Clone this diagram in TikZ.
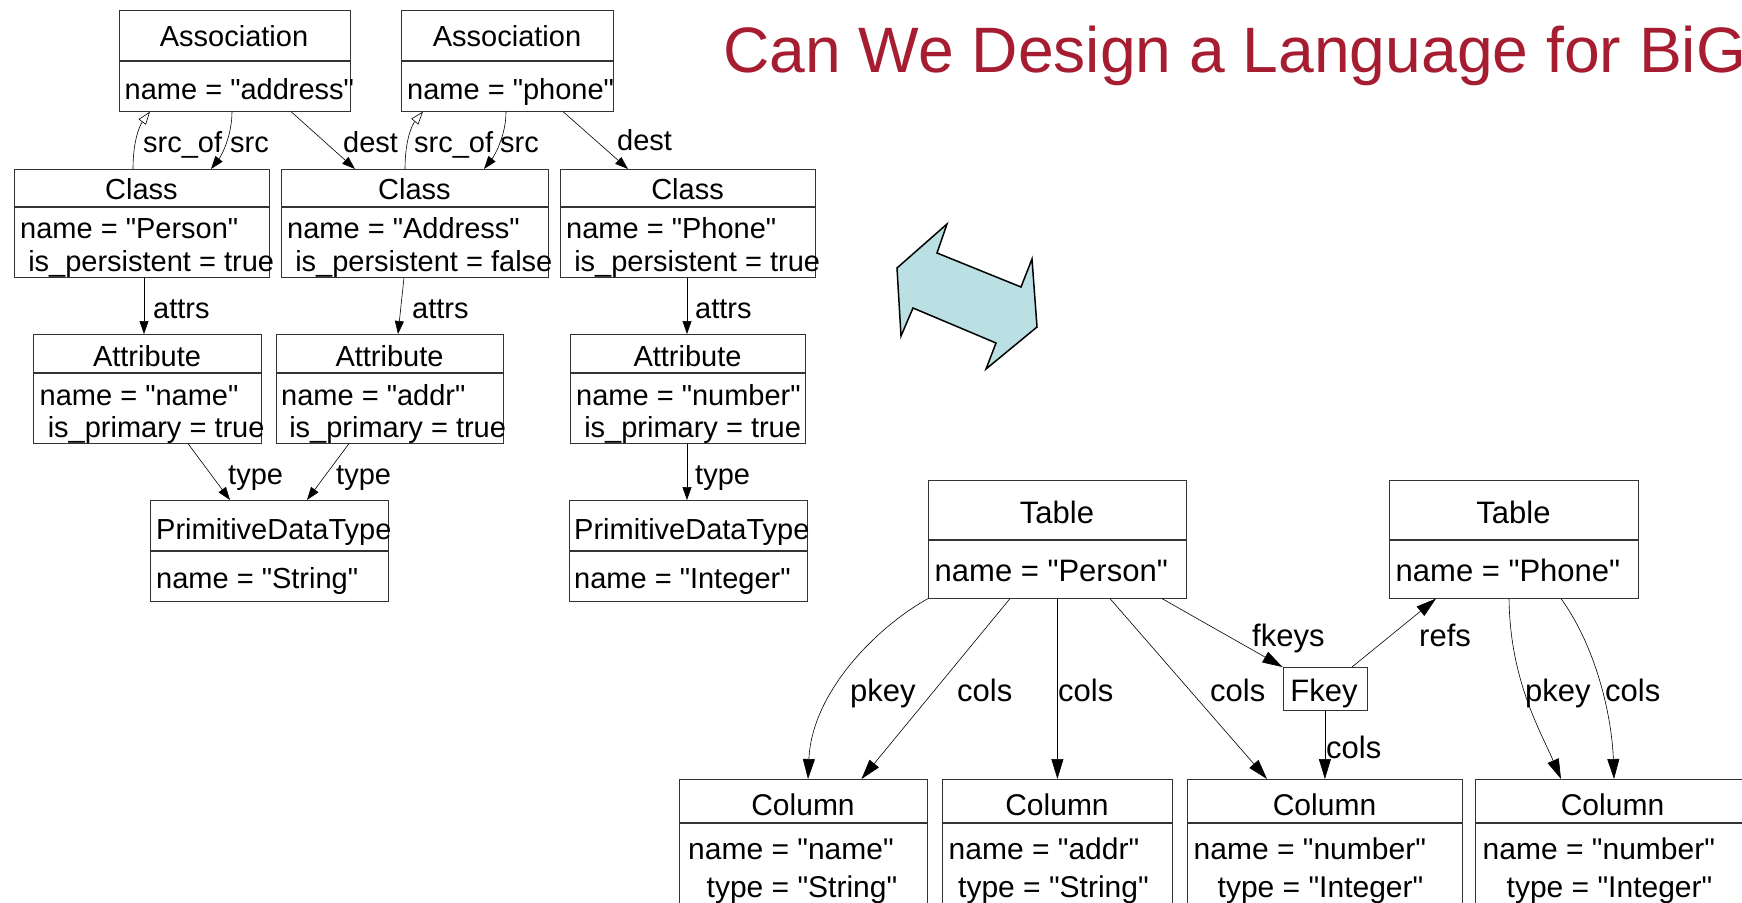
\documentclass[tikz,border=0pt]{standalone}
\usepackage{fontspec}
\setmainfont{Liberation Sans}[Ligatures=TeXOff]
\usepackage{tikz}
\usetikzlibrary{arrows.meta}

\definecolor{titlered}{RGB}{166,29,50}
\definecolor{arrowblue}{RGB}{186,224,228}

\tikzset{
  obj/.style={draw=black!80, line width=0.8pt, anchor=north west, inner sep=0pt},
  hd/.style={anchor=base, inner sep=0pt},
  txt/.style={anchor=base west, inner sep=0pt},
  rel/.style={-{Triangle[length=13pt,width=9pt]}, line width=0.6pt},
  inv/.style={-{Triangle[open,length=13pt,width=9pt]}, line width=0.6pt},
  relb/.style={-{Triangle[length=20pt,width=12pt]}, line width=0.6pt},
  lfont/.style={font=\fontsize{29}{34}\selectfont},
  rfont/.style={font=\fontsize{31}{36}\selectfont},
  cfont/.style={font=\fontsize{30}{36}\selectfont},
}

\begin{document}
\begin{tikzpicture}[x=1pt,y=-1pt]
\clip (0,0) rectangle (1742,902);
\fill[white] (0,0) rectangle (1742,902);

% title
\node[txt, text=titlered, font=\fontsize{64.2}{72}\selectfont] (title) at (723,72) {Can We Design a Language for BiG};

% object boxes, class side
\node[obj, minimum width=231, minimum height=50] (as1h) at (119,10) {};
\node[obj, minimum width=231, minimum height=50] (as1b) at (as1h.south west) {};
\node[obj, minimum width=212, minimum height=50] (as2h) at (401,10) {};
\node[obj, minimum width=212, minimum height=50] (as2b) at (as2h.south west) {};
\node[obj, minimum width=255, minimum height=37] (cl1h) at (14,169) {};
\node[obj, minimum width=255, minimum height=70] (cl1b) at (cl1h.south west) {};
\node[obj, minimum width=267, minimum height=37] (cl2h) at (281,169) {};
\node[obj, minimum width=267, minimum height=70] (cl2b) at (cl2h.south west) {};
\node[obj, minimum width=255, minimum height=37] (cl3h) at (560,169) {};
\node[obj, minimum width=255, minimum height=70] (cl3b) at (cl3h.south west) {};
\node[obj, minimum width=228, minimum height=38] (at1h) at (33,334) {};
\node[obj, minimum width=228, minimum height=70] (at1b) at (at1h.south west) {};
\node[obj, minimum width=227, minimum height=38] (at2h) at (276,334) {};
\node[obj, minimum width=227, minimum height=70] (at2b) at (at2h.south west) {};
\node[obj, minimum width=235, minimum height=38] (at3h) at (570,334) {};
\node[obj, minimum width=235, minimum height=70] (at3b) at (at3h.south west) {};
\node[obj, minimum width=238, minimum height=50] (pd1h) at (150,500) {};
\node[obj, minimum width=238, minimum height=50] (pd1b) at (pd1h.south west) {};
\node[obj, minimum width=238, minimum height=50] (pd2h) at (569,500) {};
\node[obj, minimum width=238, minimum height=50] (pd2b) at (pd2h.south west) {};

\node[hd, lfont] (as1n) at (234,46) {Association};
\node[txt, lfont] (as1v) at (124.5,99) {name = "address"};
\node[hd, lfont] (as2n) at (507,46) {Association};
\node[txt, lfont] (as2v) at (407,99) {name = "phone"};
\node[hd, lfont] (cl1n) at (141.5,199) {Class};
\node[txt, lfont] (cl1v) at (20,238) {name = "Person"};
\node[txt, lfont] (cl1w) at (20,271) {~is\_persistent = true};
\node[hd, lfont] (cl2n) at (414.5,199) {Class};
\node[txt, lfont] (cl2v) at (287,238) {name = "Address"};
\node[txt, lfont] (cl2w) at (287,271) {~is\_persistent = false};
\node[hd, lfont] (cl3n) at (687.5,199) {Class};
\node[txt, lfont] (cl3v) at (566,238) {name = "Phone"};
\node[txt, lfont] (cl3w) at (566,271) {~is\_persistent = true};
\node[hd, lfont] (at1n) at (147,366) {Attribute};
\node[txt, lfont] (at1v) at (39.5,405) {name = "name"};
\node[txt, lfont] (at1w) at (39.5,437) {~is\_primary = true};
\node[hd, lfont] (at2n) at (389.5,366) {Attribute};
\node[txt, lfont] (at2v) at (281,405) {name = "addr"};
\node[txt, lfont] (at2w) at (281,437) {~is\_primary = true};
\node[hd, lfont] (at3n) at (687.5,366) {Attribute};
\node[txt, lfont] (at3v) at (576,405) {name = "number"};
\node[txt, lfont] (at3w) at (576,437) {~is\_primary = true};
\node[txt, lfont] (pd1n) at (156,539) {PrimitiveDataType};
\node[txt, lfont] (pd1v) at (156,588) {name = "String"};
\node[txt, lfont] (pd2n) at (574,539) {PrimitiveDataType};
\node[txt, lfont] (pd2v) at (574,588) {name = "Integer"};

\draw[inv] (cl1h.north -| 133,0) .. controls (133,140) and (140,125) .. (as1b.south -| 150,0);
\draw[rel] (as1b.south -| 232,0) .. controls (232,135) and (222,155) .. (cl1h.north -| 211,0);
\draw[rel] (as1b.south -| 291,0) -- (cl2h.north -| 355,0);
\draw[inv] (cl2h.north -| 405,0) .. controls (405,140) and (412,125) .. (as2b.south -| 423,0);
\draw[rel] (as2b.south -| 506,0) .. controls (506,135) and (495,155) .. (cl2h.north -| 484,0);
\draw[rel] (as2b.south -| 563,0) -- (cl3h.north -| 628,0);
\draw[rel] (cl1b.south -| 144,0) -- (at1h.north -| 144,0);
\draw[rel] (cl2b.south -| 404,0) -- (at2h.north -| 398,0);
\draw[rel] (cl3b.south -| 687,0) -- (at3h.north -| 687,0);
\draw[rel] (at1b.south -| 188,0) -- (pd1h.north -| 230,0);
\draw[rel] (at2b.south -| 349,0) -- (pd1h.north -| 307,0);
\draw[rel] (at3b.south -| 687,0) -- (pd2h.north -| 687,0);

\node[txt, lfont] (l1) at (143,152) {src\_of};
\node[txt, lfont] (l2) at (230,152) {src};
\node[txt, lfont] (l3) at (343,152) {dest};
\node[txt, lfont] (l4) at (414,152) {src\_of};
\node[txt, lfont] (l5) at (500,152) {src};
\node[txt, lfont] (l6) at (617,150) {dest};
\node[txt, lfont] (l7) at (153,318) {attrs};
\node[txt, lfont] (l8) at (412,318) {attrs};
\node[txt, lfont] (l9) at (695,318) {attrs};
\node[txt, lfont] (l10) at (228,484) {type};
\node[txt, lfont] (l11) at (336,484) {type};
\node[txt, lfont] (l12) at (695,484) {type};

% the arrow in the middle
\draw[fill=arrowblue, line width=1.5pt, line join=miter] (947,224) -- (937,253) -- (1021,287) -- (1032,259)
  -- (1037,327) -- (986,369) -- (996,343) -- (913,308) -- (901,336) -- (897,268) -- cycle;

% table side
\node[obj, minimum width=258, minimum height=59] (tb1h) at (928,480) {};
\node[obj, minimum width=258, minimum height=58] (tb1b) at (tb1h.south west) {};
\node[obj, minimum width=249, minimum height=59] (tb2h) at (1389,480) {};
\node[obj, minimum width=249, minimum height=58] (tb2b) at (tb2h.south west) {};
\node[obj, minimum width=84, minimum height=43] (fk) at (1282.5,667) {};
\node[obj, minimum width=248, minimum height=43] (co1h) at (679,779) {};
\node[obj, minimum width=248, minimum height=200] (co1b) at (co1h.south west) {};
\node[obj, minimum width=230, minimum height=43] (co2h) at (942,779) {};
\node[obj, minimum width=230, minimum height=200] (co2b) at (co2h.south west) {};
\node[obj, minimum width=275, minimum height=43] (co3h) at (1187,779) {};
\node[obj, minimum width=275, minimum height=200] (co3b) at (co3h.south west) {};
\node[obj, minimum width=275, minimum height=43] (co4h) at (1475,779) {};
\node[obj, minimum width=275, minimum height=200] (co4b) at (co4h.south west) {};

\node[hd, rfont] (tb1n) at (1057,523) {Table};
\node[txt, rfont] (tb1v) at (934.5,581) {name = "Person"};
\node[hd, rfont] (tb2n) at (1513.5,523) {Table};
\node[txt, rfont] (tb2v) at (1395.5,581) {name = "Phone"};
\node[hd, rfont] (fkn) at (1324,701) {Fkey};
\node[hd, cfont] (co1n) at (803,815) {Column};
\node[txt, cfont] (co1v) at (688,859) {name = "name"};
\node[txt, cfont] (co1w) at (706.5,897) {type = "String"};
\node[hd, cfont] (co2n) at (1057,815) {Column};
\node[txt, cfont] (co2v) at (948.5,859) {name = "addr"};
\node[txt, cfont] (co2w) at (958,897) {type = "String"};
\node[hd, cfont] (co3n) at (1324.5,815) {Column};
\node[txt, cfont] (co3v) at (1193.5,859) {name = "number"};
\node[txt, cfont] (co3w) at (1217.5,897) {type = "Integer"};
\node[hd, cfont] (co4n) at (1612.5,815) {Column};
\node[txt, cfont] (co4v) at (1482.5,859) {name = "number"};
\node[txt, cfont] (co4w) at (1506.5,897) {type = "Integer"};

\draw[relb] (tb1b.south west) .. controls (880,625) and (812,690) .. (co1h.north -| 808,0);
\draw[relb] (tb1b.south -| 1010,0) -- (co1h.north -| 861.5,0);
\draw[relb] (tb1b.south) -- (co2h.north -| tb1b.south);
\draw[relb] (tb1b.south -| 1110,0) -- (co3h.north -| 1267,0);
\draw[relb] (tb1b.south -| 1162,0) -- (fk.north west);
\draw[relb] (fk.north -| 1352,0) -- (tb2b.south -| 1436,0);
\draw[relb] (fk.south) -- (co3h.north -| fk.south);
\draw[relb] (tb2b.south -| 1509,0) .. controls (1510,680) and (1540,730) .. (co4h.north -| 1561,0);
\draw[relb] (tb2b.south -| 1561,0) .. controls (1598,650) and (1612,720) .. (co4h.north -| 1614,0);

\node[txt, rfont] (r1) at (850,701) {pkey};
\node[txt, rfont] (r2) at (957,701) {cols};
\node[txt, rfont] (r3) at (1058,701) {cols};
\node[txt, rfont] (r4) at (1210,701) {cols};
\node[txt, rfont] (r5) at (1252,646) {fkeys};
\node[txt, rfont] (r6) at (1419,646) {refs};
\node[txt, rfont] (r7) at (1326,758) {cols};
\node[txt, rfont] (r8) at (1525,701) {pkey};
\node[txt, rfont] (r9) at (1605,701) {cols};
\end{tikzpicture}
\end{document}
